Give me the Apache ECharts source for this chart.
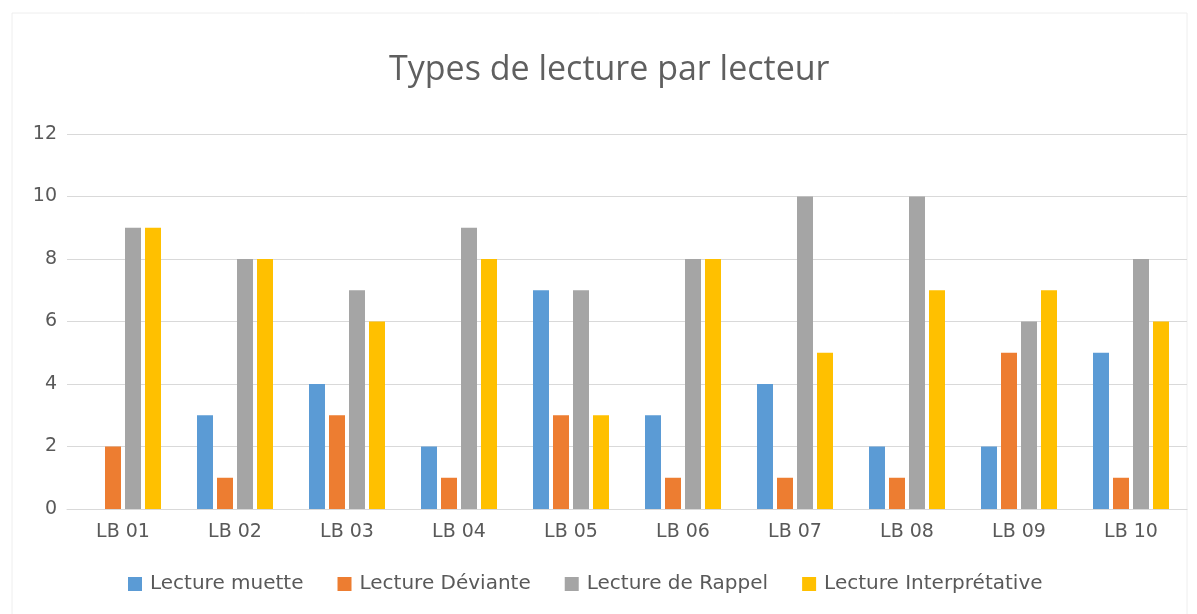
<!DOCTYPE html>
<html>
<head>
<meta charset="utf-8">
<style>
  html, body { margin: 0; padding: 0; background: #fff; }
  #chart { width: 1197px; height: 614px; }
</style>
<script src="https://cdn.jsdelivr.net/npm/echarts@6/dist/echarts.min.js"></script>
</head>
<body>
<div id="chart"></div>
<script>
const categories = ['LB 01', 'LB 02', 'LB 03', 'LB 04', 'LB 05', 'LB 06', 'LB 07', 'LB 08', 'LB 09', 'LB 10']
const muette = [0, 3, 4, 2, 7, 3, 4, 2, 2, 5]
const deviante = [2, 1, 3, 1, 3, 1, 1, 1, 5, 1]
const rappel = [9, 8, 7, 9, 7, 8, 10, 10, 6, 8]
const interpretative = [9, 8, 6, 8, 3, 8, 5, 7, 7, 6]
const seriesNames = ['Lecture muette', 'Lecture Déviante', 'Lecture de Rappel', 'Lecture Interprétative']
const colors = ['#5B9BD5', '#ED7D31', '#A5A5A5', '#FFC000']

const textColor = '#595959'
const titleFont = 'Open Sans, Liberation Sans, sans-serif'
const labelFont = 'DejaVu Sans, sans-serif'

const chart = echarts.init(document.getElementById('chart'))

const makeSeries = (name, data, i) => ({
  name,
  type: 'bar',
  data,
  barWidth: 16,
  barGap: '25%',
  itemStyle: { color: colors[i] }
})

chart.setOption({
  animation: false,
  color: colors,
  graphic: [{
    type: 'rect',
    shape: { x: 12, y: 13, width: 1175, height: 620 },
    style: { fill: 'none', stroke: '#eeeeee', lineWidth: 1 },
    silent: true
  }],
  title: {
    text: 'Types de lecture par lecteur',
    left: 384,
    top: 48,
    textStyle: { color: '#5f5f5f', fontSize: 34, fontWeight: 'normal', fontFamily: titleFont }
  },
  legend: {
    data: seriesNames,
    top: 569,
    left: 123,
    icon: 'rect',
    itemWidth: 14,
    itemHeight: 14,
    itemGap: 34,
    textStyle: { color: textColor, fontSize: 20, fontFamily: labelFont, padding: [0, 0, 0, 3] }
  },
  grid: {
    left: 67,
    right: 10,
    top: 134,
    bottom: 105,
    containLabel: false
  },
  xAxis: {
    type: 'category',
    data: categories,
    axisTick: { show: false },
    axisLine: { lineStyle: { color: '#d9d9d9' } },
    axisLabel: { color: textColor, fontSize: 19, fontFamily: labelFont, margin: 14 }
  },
  yAxis: {
    type: 'value',
    min: 0,
    max: 12,
    interval: 2,
    axisLine: { show: false },
    axisTick: { show: false },
    axisLabel: { color: textColor, fontSize: 19, fontFamily: labelFont, margin: 10 },
    splitLine: { lineStyle: { color: '#d9d9d9' } }
  },
  series: [
    makeSeries(seriesNames[0], muette, 0),
    makeSeries(seriesNames[1], deviante, 1),
    makeSeries(seriesNames[2], rappel, 2),
    makeSeries(seriesNames[3], interpretative, 3)
  ]
})
</script>
</body>
</html>
